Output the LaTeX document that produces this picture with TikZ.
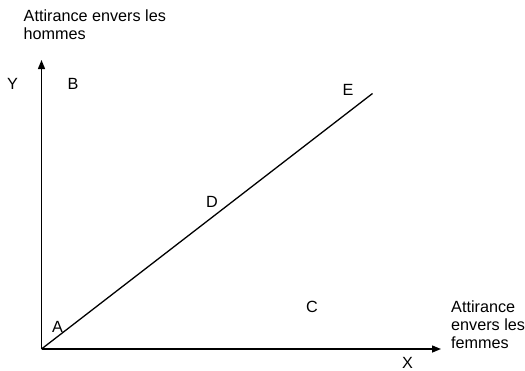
\documentclass[tikz,border=0pt]{standalone}
\usepackage{fontspec}
\setmainfont{Liberation Sans}
\usetikzlibrary{arrows.meta}
\begin{document}
\begin{tikzpicture}[x=1pt,y=-1pt,
  lbl/.style={anchor=base west,inner sep=0pt,font=\fontsize{16.2}{18}\selectfont,align=left},
  axis/.style={line width=1.4pt,-{Triangle[length=9pt,width=7pt]}},
  diag/.style={line width=1.3pt}]
\useasboundingbox (0,0) rectangle (525,370);
\coordinate (O) at (41.5,349);
\coordinate (Ytip) at (41.5,60);
\coordinate (Xtip) at (441,349);
\coordinate (Eend) at (372.5,93.5);
\draw[axis] (O) -- (Ytip);
\draw[axis] (O) -- (Xtip);
\draw[diag] (O) -- (Eend);
\node[lbl] (ty) at (23.5,39.5) {Attirance envers les\\hommes};
\node[lbl] (tx) at (451,348.5) {Attirance\\envers les\\femmes};
\node[lbl] (Y) at (7,89) {Y};
\node[lbl] (B) at (67.5,89) {B};
\node[lbl] (E) at (342.5,95) {E};
\node[lbl] (D) at (206,207) {D};
\node[lbl] (C) at (306,312.5) {C};
\node[lbl] (A) at (52,332.5) {A};
\node[lbl] (X) at (402,368) {X};
\end{tikzpicture}
\end{document}
